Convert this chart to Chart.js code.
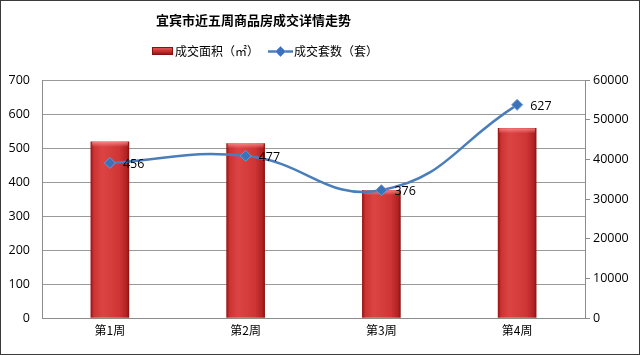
<!DOCTYPE html>
<html>
<head>
<meta charset="utf-8">
<script src="https://cdn.jsdelivr.net/npm/chart.js@4"></script>
<style>
html,body{margin:0;padding:0;background:#fff;}
#wrap{width:640px;height:355px;position:relative;}
</style>
</head>
<body>
<div id="wrap"><canvas id="c" width="640" height="355"></canvas></div>
<script>
const titleText = '宜宾市近五周商品房成交详情走势';
const categories = ['第1周', '第2周', '第3周', '第4周'];
const areaLabel = '成交面积（㎡）';
const unitLabel = '成交套数（套）';
const areaValues = [44400, 44000, 32200, 47800];
const unitValues = [456, 477, 376, 627];
const leftTicks = [0, 100, 200, 300, 400, 500, 600, 700];
const rightTicks = [0, 10000, 20000, 30000, 40000, 50000, 60000];

const CJK = '"Noto Sans CJK SC", "Noto Sans", sans-serif';
const NUM = '"Open Sans", "Noto Sans", sans-serif';
const BAR_W = 38;

function barGradient(ctx) {
  const chart = ctx.chart;
  if (!chart.chartArea || ctx.dataIndex === undefined) return '#c83030';
  const cx = chart.scales.x.getPixelForValue(ctx.dataIndex);
  const g = chart.ctx.createLinearGradient(cx - BAR_W / 2, 0, cx + BAR_W / 2, 0);
  g.addColorStop(0, '#9a1414');
  g.addColorStop(0.08, '#cc3434');
  g.addColorStop(0.3, '#dc4444');
  g.addColorStop(0.75, '#cf3535');
  g.addColorStop(0.94, '#b02222');
  g.addColorStop(1, '#8a1212');
  return g;
}

const decorPlugin = {
  id: 'decor',
  beforeDraw(chart) {
    const c = chart.ctx;
    c.save();
    c.fillStyle = '#fff';
    c.fillRect(0, 0, chart.width, chart.height);
    c.restore();
  },
  afterDatasetDraw(chart, args) {
    if (args.index !== 0) return;
    const c = chart.ctx;
    const meta = chart.getDatasetMeta(0);
    c.save();
    meta.data.forEach((bar) => {
      const g = c.createLinearGradient(0, bar.y, 0, bar.y + 5);
      g.addColorStop(0, 'rgba(255,150,150,0.75)');
      g.addColorStop(1, 'rgba(255,150,150,0)');
      c.fillStyle = g;
      c.fillRect(bar.x - BAR_W / 2 + 1, bar.y, BAR_W - 2, 5);
    });
    c.restore();
  },
  afterDraw(chart) {
    const c = chart.ctx;
    c.save();
    // border
    c.strokeStyle = '#3a3a3a';
    c.lineWidth = 1;
    c.strokeRect(0.5, 0.5, chart.width - 1, chart.height - 1);
    // title
    c.fillStyle = '#000';
    c.font = 'bold 13px ' + CJK;
    c.textAlign = 'center';
    c.textBaseline = 'middle';
    c.fillText(titleText, 253.5, 20);
    // legend
    c.font = '12px ' + CJK;
    c.textAlign = 'left';
    const lg = c.createLinearGradient(0, 47, 0, 55);
    lg.addColorStop(0, '#e86060');
    lg.addColorStop(0.5, '#cc3030');
    lg.addColorStop(1, '#8a1010');
    c.fillStyle = lg;
    c.fillRect(152, 47.5, 21, 7);
    c.strokeStyle = '#8a1010';
    c.strokeRect(152.5, 47.5, 20, 7);
    c.fillStyle = '#000';
    c.fillText(areaLabel, 175, 51);
    c.strokeStyle = '#4a7ebb';
    c.lineWidth = 2.5;
    c.beginPath();
    c.moveTo(268, 51.5);
    c.lineTo(293, 51.5);
    c.stroke();
    c.fillStyle = '#3c72b8';
    c.strokeStyle = '#6a9ad6';
    c.lineWidth = 1;
    c.beginPath();
    c.moveTo(280.5 - 5, 51.5);
    c.lineTo(280.5, 46.5);
    c.lineTo(280.5 + 5, 51.5);
    c.lineTo(280.5, 56.5);
    c.closePath();
    c.fill();
    c.stroke();
    c.fillStyle = '#000';
    c.fillText(unitLabel, 294, 51);
    // data labels
    const meta = chart.getDatasetMeta(1);
    c.font = '12.5px ' + NUM;
    c.textAlign = 'left';
    c.textBaseline = 'middle';
    c.fillStyle = '#000';
    meta.data.forEach((pt, i) => {
      c.fillText(String(unitValues[i]), pt.x + 13, pt.y + 1.5);
    });
    c.restore();
  }
};

new Chart(document.getElementById('c'), {
  type: 'bar',
  data: {
    labels: categories,
    datasets: [
      {
        type: 'bar',
        label: areaLabel,
        data: areaValues,
        yAxisID: 'y1',
        backgroundColor: barGradient,
        borderWidth: 0,
        barThickness: BAR_W,
        order: 2
      },
      {
        type: 'line',
        label: unitLabel,
        data: unitValues,
        yAxisID: 'y',
        borderColor: '#4a7ebb',
        borderWidth: 2.5,
        tension: 0.45,
        pointStyle: 'rectRot',
        pointRadius: 5.5,
        pointBorderWidth: 1,
        pointBackgroundColor: '#3c72b8',
        pointBorderColor: '#6a9ad6',
        order: 1
      }
    ]
  },
  options: {
    responsive: false,
    animation: false,
    devicePixelRatio: 1,
    layout: { padding: { top: 80, left: 0, right: 0, bottom: 0 } },
    plugins: {
      legend: { display: false },
      title: { display: false },
      tooltip: { enabled: false }
    },
    scales: {
      x: {
        offset: true,
        grid: { display: false, drawTicks: false },
        border: { display: true, color: '#8c8c8c', width: 1 },
        ticks: { color: '#000', font: { size: 12, family: CJK }, padding: 5 },
        afterFit(s) { s.height = 37; }
      },
      y: {
        position: 'left',
        min: 0, max: 700,
        afterBuildTicks(s) { s.ticks = leftTicks.map(v => ({ value: v })); },
        grid: { color: '#9a9a9a', drawTicks: false, lineWidth: 1 },
        border: { display: true, color: '#8c8c8c', width: 1 },
        ticks: { color: '#000', font: { size: 12.5, family: NUM }, padding: 12, callback: (v) => String(v) },
        afterFit(s) { s.width = 42; }
      },
      y1: {
        position: 'right',
        min: 0, max: 60000,
        afterBuildTicks(s) { s.ticks = rightTicks.map(v => ({ value: v })); },
        grid: { drawOnChartArea: false, drawTicks: true, tickLength: 5, color: '#8c8c8c' },
        border: { display: true, color: '#8c8c8c', width: 1 },
        ticks: { color: '#000', font: { size: 12.5, family: NUM }, padding: 3, callback: (v) => String(v) },
        afterFit(s) { s.width = 55; }
      }
    }
  },
  plugins: [decorPlugin]
});
</script>
</body>
</html>
